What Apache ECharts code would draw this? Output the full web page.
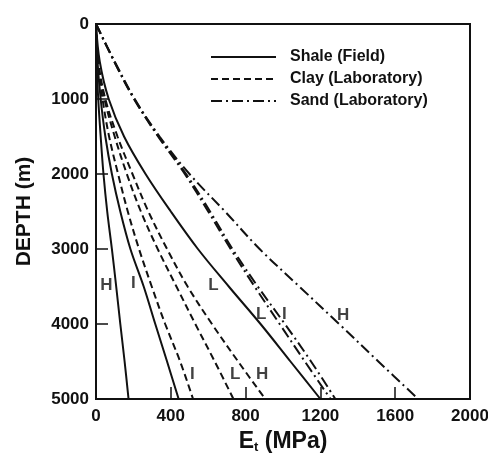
<!DOCTYPE html>
<html>
<head>
<meta charset="utf-8">
<script src="https://cdn.jsdelivr.net/npm/echarts@6/dist/echarts.min.js"></script>
<style>html,body{margin:0;padding:0;background:#fff}#c{width:488px;height:458px}</style>
</head>
<body>
<div id="c"></div>
<script>
// Depth (m) at which E_t values were read
const depths = [0, 500, 1000, 1500, 2000, 2500, 3000, 3500, 4000, 4500, 5000];

// Shale (Field) — solid
const shaleH = [0, 3, 12, 25, 40, 60, 85, 108, 130, 153, 174];
const shaleI = [0, 8, 25, 50, 85, 130, 184, 255, 317, 380, 442];
const shaleL = [0, 20, 68, 150, 265, 400, 545, 710, 880, 1040, 1200];

// Clay (Laboratory) — dashed
const clayI = [0, 10, 35, 70, 118, 170, 230, 298, 370, 450, 519];
const clayL = [0, 10, 45, 100, 165, 240, 330, 430, 531, 635, 735];
const clayH = [0, 12, 50, 115, 195, 280, 380, 490, 620, 760, 905];

// Sand (Laboratory) — dash-dot
const sandL = [0, 97, 203, 332, 475, 600, 720, 848, 982, 1117, 1254];
const sandI = [0, 98, 205, 335, 482, 610, 730, 865, 1010, 1150, 1280];
const sandH = [0, 100, 207, 340, 500, 690, 875, 1087, 1300, 1510, 1723];

// Curve labels: text, E (MPa), depth (m)
const labelText  = ['H', 'I', 'L', 'L', 'I', 'H', 'I', 'L', 'H'];
const labelE     = [55, 200, 628, 884, 1007, 1322, 515, 745, 889];
const labelDepth = [3480, 3460, 3480, 3870, 3870, 3880, 4670, 4670, 4670];

const legendNames = ['Shale (Field)', 'Clay (Laboratory)', 'Sand (Laboratory)'];
const xTicks = { min: 0, max: 2000, interval: 400 };
const yTicks = { min: 0, max: 5000, interval: 1000 };

const FONT = "'Liberation Sans', Arial, sans-serif";
const INK = '#111';

function pairs(vals) { return vals.map((v, i) => [v, depths[i]]); }

function lineSeries(name, vals, type) {
  return {
    type: 'line', name: name, data: pairs(vals), smooth: 0.35,
    symbol: 'none', showSymbol: false, silent: true,
    lineStyle: { color: INK, width: 2, type: type },
    itemStyle: { color: INK },
    emphasis: { disabled: true }, z: 3
  };
}

const DASH = [7, 4];
const DASHDOT = [11, 4, 2, 4];

const series = [
  lineSeries(legendNames[0], shaleH, 'solid'),
  lineSeries(legendNames[0], shaleI, 'solid'),
  lineSeries(legendNames[0], shaleL, 'solid'),
  lineSeries(legendNames[1], clayI, DASH),
  lineSeries(legendNames[1], clayL, DASH),
  lineSeries(legendNames[1], clayH, DASH),
  lineSeries(legendNames[2], sandL, DASHDOT),
  lineSeries(legendNames[2], sandI, DASHDOT),
  lineSeries(legendNames[2], sandH, DASHDOT),
  {
    type: 'scatter', name: 'labels', silent: true, symbolSize: 0,
    data: labelText.map((t, i) => ({ name: t, value: [labelE[i], labelDepth[i]] })),
    label: {
      show: true, position: 'inside', formatter: p => p.name,
      color: INK, fontFamily: FONT, fontWeight: 'bold', fontSize: 17
    },
    z: 5
  }
];

const chart = echarts.init(document.getElementById('c'), null, { renderer: 'canvas' });
chart.setOption({
  animation: false,
  backgroundColor: '#fff',
  grid: { left: 96, right: 18, top: 24, bottom: 59, show: true, borderColor: INK, borderWidth: 2, containLabel: false, outerBoundsMode: 'none' },
  legend: {
    data: legendNames, orient: 'vertical', left: 210, top: 49, padding: 0,
    itemWidth: 65, itemHeight: 14, itemGap: 6, selectedMode: false,
    itemStyle: { opacity: 0, borderWidth: 0 },
    textStyle: { color: INK, fontFamily: FONT, fontWeight: 'bold', fontSize: 16, lineHeight: 14, padding: [0, 0, 0, 9] }
  },
  xAxis: {
    type: 'value', min: xTicks.min, max: xTicks.max, interval: xTicks.interval,
    name: 'E{s|t} (MPa)', nameLocation: 'middle', nameGap: 22,
    nameTextStyle: {
      color: INK, fontFamily: FONT, fontWeight: 'bold', fontSize: 23,
      rich: { s: { fontFamily: FONT, fontWeight: 'bold', fontSize: 13, color: INK, verticalAlign: 'bottom', padding: [12, 0, 0, 0] } }
    },
    axisLine: { show: true, onZero: false, lineStyle: { color: INK, width: 2 } },
    axisTick: { show: true, inside: true, length: 12, lineStyle: { color: INK, width: 1.5 } },
    axisLabel: { color: INK, fontFamily: FONT, fontWeight: 'bold', fontSize: 17, margin: 9, formatter: v => String(v) },
    splitLine: { show: false }
  },
  yAxis: {
    type: 'value', inverse: true, min: yTicks.min, max: yTicks.max, interval: yTicks.interval,
    name: 'DEPTH (m)', nameLocation: 'middle', nameGap: 61, nameRotate: 90,
    nameTextStyle: { color: INK, fontFamily: FONT, fontWeight: 'bold', fontSize: 21 },
    axisLine: { show: true, onZero: false, lineStyle: { color: INK, width: 2 } },
    axisTick: { show: true, inside: true, length: 12, lineStyle: { color: INK, width: 1.5 } },
    axisLabel: { color: INK, fontFamily: FONT, fontWeight: 'bold', fontSize: 17, margin: 7, formatter: v => String(v) },
    splitLine: { show: false }
  },
  series: series
});
</script>
</body>
</html>
